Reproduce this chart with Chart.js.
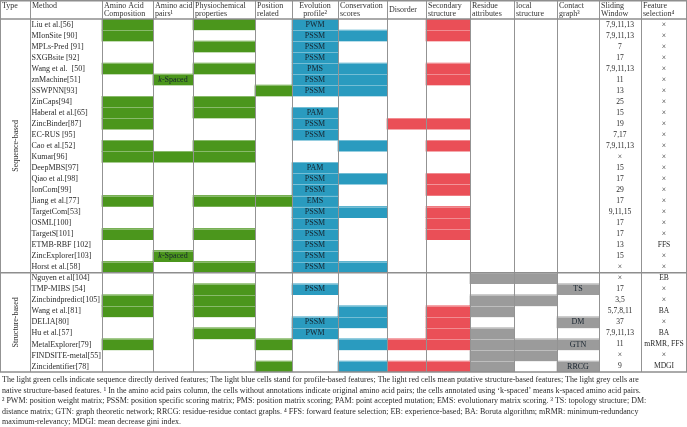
<!DOCTYPE html>
<html><head><meta charset="utf-8">
<script src="https://cdn.jsdelivr.net/npm/chart.js@4"></script>
<style>html,body{margin:0;padding:0;background:#fff}canvas{display:block}</style>
</head><body>
<canvas id="c" width="687" height="427"></canvas>
<script>
// ---------- DATA ----------
const methods = [
  'Liu et al.[56]','MIonSite [90]','MPLs-Pred [91]','SXGBsite [92]','Wang et al.  [50]','znMachine[51]',
  'SSWPNN[93]','ZinCaps[94]','Haberal et al.[65]','ZincBinder[87]','EC-RUS [95]','Cao et al.[52]',
  'Kumar[96]','DeepMBS[97]','Qiao et al.[98]','IonCom[99]','Jiang et al.[77]','TargetCom[53]',
  'OSML[100]','TargetS[101]','ETMB-RBF [102]','ZincExplorer[103]','Horst et al.[58]',
  'Nguyen et al[104]','TMP-MIBS [54]','Zincbindpredict[105]','Wang et al.[81]','DELIA[80]',
  'Hu et al.[57]','MetalExplorer[79]','FINDSITE-metal[55]','Zincidentifier[78]'
];
const typeGroups = ['Sequence-based','Structure-based'];
const typeGroupSizes = [23, 9];

// 1 = cell filled, 0 = empty; strings = filled cell carrying that label
const aminoAcidComposition = [1,1,0,0,1,0,0,1,1,1,0,1,1,0,0,0,1,0,0,1,0,0,1, 0,0,1,1,0,0,1,0,0];
const aminoAcidPairs       = [0,0,0,0,0,'k-Spaced',0,0,0,0,0,0,1,0,0,0,0,0,0,0,0,'k-Spaced',0, 0,0,0,0,0,0,0,0,0];
const physiochemical       = [1,0,1,0,1,0,0,1,1,0,0,1,1,0,0,0,1,0,0,1,0,0,1, 0,1,1,1,0,1,0,0,0];
const positionRelated      = [0,0,0,0,0,0,1,0,0,0,0,0,0,0,0,0,1,0,0,0,0,0,0, 0,0,0,0,0,0,1,0,1];
const evolutionProfile     = ['PWM','PSSM','PSSM','PSSM','PMS','PSSM','PSSM',0,'PAM','PSSM','PSSM',0,0,'PAM','PSSM','PSSM','EMS','PSSM','PSSM','PSSM','PSSM','PSSM','PSSM',
                              0,'PSSM',0,0,'PSSM','PWM',0,0,0];
const conservationScores   = [0,1,0,0,1,1,1,0,0,0,0,1,0,0,1,0,0,1,0,0,0,0,1, 0,0,0,1,1,0,1,0,1];
const disorder             = [0,0,0,0,0,0,0,0,0,1,0,0,0,0,0,0,0,0,0,0,0,0,0, 0,0,0,0,0,0,1,0,1];
const secondaryStructure   = [1,1,0,0,1,1,0,0,0,1,0,1,0,0,1,1,0,1,1,1,0,0,0, 0,0,0,1,1,1,1,0,1];
const residueAttributes    = [0,0,0,0,0,0,0,0,0,0,0,0,0,0,0,0,0,0,0,0,0,0,0, 1,0,1,1,0,1,1,1,1];
const localStructure       = [0,0,0,0,0,0,0,0,0,0,0,0,0,0,0,0,0,0,0,0,0,0,0, 1,0,1,0,0,0,1,1,0];
const contactGraph         = [0,0,0,0,0,0,0,0,0,0,0,0,0,0,0,0,0,0,0,0,0,0,0, 0,'TS',0,0,'DM',0,'GTN',0,'RRCG'];
const slidingWindow = ['7,9,11,13','7,9,11,13','7','17','7,9,11,13','11','13','25','15','19','7,17','7,9,11,13','×','15','17','29','17','9,11,15','17','17','13','15','×',
                       '×','17','3,5','5,7,8,11','37','7,9,11,13','11','×','9'];
const featureSelection = ['×','×','×','×','×','×','×','×','×','×','×','×','×','×','×','×','×','×','×','×','FFS','×','×',
                          'EB','×','×','BA','×','BA','mRMR, FFS','×','MDGI'];

const headers = [['Type'],['Method'],['Amino Acid','Composition'],['Amino acid','pairs¹'],['Physiochemical','properties'],
  ['Position','related'],['Evolution','profile²'],['Conservation','scores'],['Disorder'],['Secondary','structure'],
  ['Residue','attributes'],['local','structure'],['Contact','graph³'],['Sliding','Window'],['Feature','selection⁴']];
const footnotes = [
  'The light green cells indicate sequence directly derived features; The light blue cells stand for profile-based features; The light red cells mean putative structure-based features; The light grey cells are',
  'native structure-based features. ¹ In the amino acid pairs column, the cells without annotations indicate original amino acid pairs; the cells annotated using \u2018k-spaced\u2019 means k-spaced amino acid pairs.',
  '² PWM: position weight matrix; PSSM: position specific scoring matrix; PMS: position matrix scoring; PAM: point accepted mutation; EMS: evolutionary matrix scoring. ³ TS: topology structure; DM:',
  'distance matrix; GTN: graph theoretic network; RRCG: residue-residue contact graphs. ⁴ FFS: forward feature selection; EB: experience-based; BA: Boruta algorithm; mRMR: minimum-redundancy',
  'maximum-relevancy; MDGI: mean decrease gini index.'
];

// ---------- LAYOUT / STYLE ----------
const colWidths = [30,72,51,40,62,37,46,49,39,44,44,43,42,42,46];
const edges = [0]; colWidths.forEach(w => edges.push(edges[edges.length-1] + w));
const GREEN = '#4b961c', BLUE = '#2a9bbf', RED = '#ea4f57', GREY = '#9b9b9b';
const featureCols = [
  {col:2,  values:aminoAcidComposition, color:GREEN},
  {col:3,  values:aminoAcidPairs,       color:GREEN},
  {col:4,  values:physiochemical,       color:GREEN},
  {col:5,  values:positionRelated,      color:GREEN},
  {col:6,  values:evolutionProfile,     color:BLUE},
  {col:7,  values:conservationScores,   color:BLUE},
  {col:8,  values:disorder,             color:RED},
  {col:9,  values:secondaryStructure,   color:RED},
  {col:10, values:residueAttributes,    color:GREY},
  {col:11, values:localStructure,       color:GREY},
  {col:12, values:contactGraph,         color:GREY},
];
const SERIF = '"Liberation Serif", "DejaVu Serif", serif';

const datasets = featureCols.map(fc => ({
  data: fc.values.map(v => v ? [edges[fc.col], edges[fc.col+1]] : null),
  cellLabels: fc.values.map(v => typeof v === 'string' ? v : ''),
  backgroundColor: fc.color,
  borderWidth: 0,
  grouped: false,
  barPercentage: 1,
  categoryPercentage: 1
}));

const tablePlugin = {
  id: 'tablePlugin',
  beforeDraw(chart) {
    const c = chart.ctx; c.save(); c.fillStyle = '#fff'; c.fillRect(0,0,chart.width,chart.height); c.restore();
  },
  afterDatasetsDraw(chart) {
    const ctx = chart.ctx, xs = chart.scales.x, ys = chart.scales.y, area = chart.chartArea;
    const n = methods.length;
    const rowB = i => i === 0 ? area.top : (i === n ? area.bottom : (ys.getPixelForValue(i-1) + ys.getPixelForValue(i)) / 2);
    const X = v => xs.getPixelForValue(v);
    ctx.save();
    // faint row separators inside coloured cells
    ctx.strokeStyle = 'rgba(255,255,255,0.35)'; ctx.lineWidth = 1;
    for (let i = 1; i < n; i++) {
      const yy = Math.round(rowB(i)) + 0.5;
      ctx.beginPath(); ctx.moveTo(X(edges[2]), yy); ctx.lineTo(X(edges[13]), yy); ctx.stroke();
    }
    // cell labels
    ctx.textBaseline = 'middle'; ctx.fillStyle = '#17232e';
    chart.data.datasets.forEach((ds, d) => {
      const meta = chart.getDatasetMeta(d);
      ds.cellLabels.forEach((lab, i) => {
        if (!lab) return;
        const el = meta.data[i];
        const cx = (el.x + el.base) / 2, cy = el.y;
        if (lab.startsWith('k-')) {
          ctx.font = 'italic 8px ' + SERIF; const w1 = ctx.measureText('k').width;
          ctx.font = '8px ' + SERIF; const w2 = ctx.measureText(lab.slice(1)).width;
          let sx = cx - (w1 + w2) / 2;
          ctx.textAlign = 'left';
          ctx.font = 'italic 8px ' + SERIF; ctx.fillText('k', sx, cy);
          ctx.font = '8px ' + SERIF; ctx.fillText(lab.slice(1), sx + w1, cy);
        } else {
          ctx.font = '8px ' + SERIF; ctx.textAlign = 'center'; ctx.fillText(lab, cx, cy);
        }
      });
    });
    // method names + sliding window + feature selection
    ctx.fillStyle = '#2b2b2b';
    methods.forEach((m, i) => {
      const cy = ys.getPixelForValue(i);
      ctx.font = '8px ' + SERIF; ctx.textAlign = 'left'; ctx.fillText(m, X(edges[1]) + 1.5, cy);
      ctx.font = '7.6px ' + SERIF; ctx.textAlign = 'center';
      ctx.fillText(slidingWindow[i], (X(edges[13]) + X(edges[14])) / 2, cy);
      ctx.fillText(featureSelection[i], (X(edges[14]) + X(edges[15])) / 2, cy);
    });
    // type group labels (rotated)
    let start = 0;
    typeGroups.forEach((g, k) => {
      const yTop = rowB(start), yBot = rowB(start + typeGroupSizes[k]);
      ctx.save(); ctx.translate((X(edges[0]) + X(edges[1])) / 2 + 0.5, (yTop + yBot) / 2); ctx.rotate(-Math.PI/2);
      ctx.font = '8px ' + SERIF; ctx.textAlign = 'center'; ctx.textBaseline = 'middle'; ctx.fillStyle = '#2b2b2b';
      ctx.fillText(g, 0, 0); ctx.restore();
      start += typeGroupSizes[k];
    });
    // headers
    ctx.font = '8px ' + SERIF; ctx.fillStyle = '#333'; ctx.textBaseline = 'middle';
    headers.forEach((h, c) => {
      const x0 = X(edges[c]), x1 = X(edges[c+1]);
      const centered = (c === 6);
      ctx.textAlign = centered ? 'center' : 'left';
      const tx = centered ? (x0 + x1) / 2 : x0 + 2;
      if (h.length === 1 && c === 8) ctx.fillText(h[0], tx, area.top / 2 + 0.5);
      else h.forEach((line, j) => ctx.fillText(line, tx, 5.5 + j * 8));
    });
    // grid lines
    ctx.strokeStyle = '#939393'; ctx.lineWidth = 1;
    edges.forEach((e, c) => {
      let xx = Math.round(X(e)) + 0.5; if (c === edges.length - 1) xx = Math.round(X(e)) - 0.5;
      ctx.beginPath(); ctx.moveTo(xx, 0); ctx.lineTo(xx, area.bottom); ctx.stroke();
    });
    ctx.lineWidth = 1.5; ctx.strokeStyle = '#8e8e8e';
    [0.75, area.top, rowB(typeGroupSizes[0]), area.bottom].forEach(yy => {
      ctx.beginPath(); ctx.moveTo(0, yy); ctx.lineTo(chart.width, yy); ctx.stroke();
    });
    // footnotes
    ctx.font = '8px ' + SERIF; ctx.fillStyle = '#2b2b2b'; ctx.textAlign = 'left'; ctx.textBaseline = 'middle';
    footnotes.forEach((f, j) => ctx.fillText(f, 2, area.bottom + 8 + j * 10.6, chart.width - 4));
    ctx.restore();
  }
};

new Chart(document.getElementById('c'), {
  type: 'bar',
  data: { labels: methods, datasets },
  options: {
    indexAxis: 'y',
    responsive: false,
    animation: false,
    devicePixelRatio: 1,
    layout: { padding: { top: 19, bottom: 55, left: 0, right: 0 } },
    scales: {
      x: { type: 'linear', min: edges[0], max: edges[edges.length-1], display: false },
      y: { type: 'category', display: false, offset: true }
    },
    plugins: { legend: { display: false }, tooltip: { enabled: false } }
  },
  plugins: [tablePlugin]
});
</script>
</body></html>
